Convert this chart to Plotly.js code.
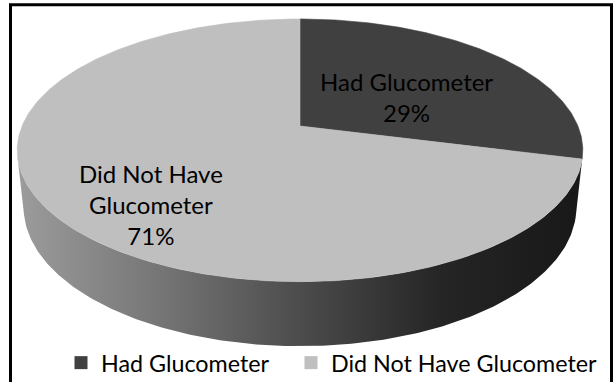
<!DOCTYPE html>
<html>
<head>
<meta charset="utf-8">
<script src="https://cdn.plot.ly/plotly-3.0.1.min.js"></script>
<style>
  html, body { margin: 0; padding: 0; background: #ffffff; }
  #chart { width: 614px; height: 385px; }
</style>
</head>
<body>
<div id="chart"></div>
<script>
// Survey result: glucometer ownership (percent of respondents)
const categories = ['Had Glucometer', 'Did Not Have Glucometer'];
const labelLines = ['Had Glucometer', 'Did Not Have<br>Glucometer'];
const shares = [29, 71];
const topColors = ['#404040', '#bfbfbf'];
const sideScale = [[0, '#9c9c9c'], [0.25, '#767676'], [0.5, '#4c4c4c'], [0.75, '#252525'], [1, '#181818']];

// Perspective view of a tilted disc (unit radius) with a cylindrical rim.
const view = {
  cx: 300, cy: 127,        // screen position of the disc centre
  focal: 1334,             // focal length in px
  dist: 4.8,               // camera distance in disc radii
  sinT: 0.46, cosT: 0.888, // camera elevation
  depth: 0.235             // rim thickness in disc radii
};

function project(theta, r, z) {
  const X = r * Math.sin(theta), Y = r * Math.cos(theta), Z = z;
  const up = Y * view.sinT + Z * view.cosT;
  const d = view.dist + Y * view.cosT - Z * view.sinT;
  return [view.cx + view.focal * X / d, view.cy - view.focal * up / d];
}

function arc(a0, a1, z, steps) {
  const pts = [];
  for (let i = 0; i <= steps; i++) {
    const t = a0 + (a1 - a0) * i / steps;
    pts.push(project(t, 1, z));
  }
  return pts;
}

const total = shares.reduce((s, v) => s + v, 0);
const toRad = v => v / total * 2 * Math.PI;
// the rim is visible between the two silhouette angles
const silA = Math.acos(-1 / (view.dist * view.cosT));
const silB = 2 * Math.PI - silA;

const sideTraces = [];
const topTraces = [];
let acc = 0;
shares.forEach((v, i) => {
  const a0 = toRad(acc), a1 = toRad(acc + v);
  acc += v;
  // top face of the slice
  const rim = arc(a0, a1, 0, Math.max(8, Math.round((a1 - a0) * 80)));
  const c = project(0, 0, 0);
  const poly = [c].concat(rim, [c]);
  topTraces.push({
    type: 'scatter', mode: 'lines',
    x: poly.map(p => p[0]), y: poly.map(p => p[1]),
    fill: 'toself', fillcolor: topColors[i],
    line: { width: 0.6, color: topColors[i] },
    hoverinfo: 'skip', showlegend: false
  });
  // visible part of the slice's rim
  const s0 = Math.max(a0, silA), s1 = Math.min(a1, silB);
  if (s1 > s0) {
    const n = Math.max(4, Math.round((s1 - s0) * 80));
    const upper = arc(s0, s1, 0, n);
    const lower = arc(s1, s0, -view.depth, n);
    const side = upper.concat(lower, [upper[0]]);
    sideTraces.push({
      type: 'scatter', mode: 'lines',
      x: side.map(p => p[0]), y: side.map(p => p[1]),
      fill: 'toself',
      fillgradient: { type: 'horizontal', colorscale: sideScale },
      line: { width: 0 },
      hoverinfo: 'skip', showlegend: false
    });
  }
});

// one legend per category so each entry can be placed on its own
const legendIds = ['legend', 'legend2'];
const legendTraces = categories.map((name, i) => ({
  type: 'scatter', mode: 'markers', name: name,
  x: [null], y: [null],
  marker: { symbol: 'square', size: 13, color: topColors[i] },
  legend: legendIds[i],
  showlegend: true
}));

const font = 'Lato, "Open Sans", sans-serif';
const labelPos = [[406, 98], [151, 206]];
const annotations = shares.map((v, i) => ({
  xref: 'x', yref: 'y', x: labelPos[i][0], y: labelPos[i][1],
  text: labelLines[i] + '<br>' + v + '%',
  showarrow: false, align: 'center',
  font: { family: font, size: 24, color: '#000000' }
}));

const legendBase = {
  orientation: 'h', xanchor: 'left',
  y: 1 - 366 / 385, yanchor: 'middle',
  font: { family: font, size: 23.3, color: '#000000' },
  bgcolor: 'rgba(0,0,0,0)', borderwidth: 0
};

const layout = {
  width: 614, height: 385,
  margin: { l: 0, r: 0, t: 0, b: 0 },
  paper_bgcolor: '#ffffff', plot_bgcolor: '#ffffff',
  xaxis: { range: [0, 614], visible: false, fixedrange: true },
  yaxis: { range: [385, 0], visible: false, fixedrange: true },
  showlegend: true,
  legend: Object.assign({ x: 61 / 614 }, legendBase),
  legend2: Object.assign({ x: 291 / 614 }, legendBase),
  annotations: annotations,
  shapes: [{
    type: 'rect', xref: 'x', yref: 'y',
    x0: 10.5, x1: 611.5, y0: 4.8, y1: 400,
    line: { color: '#000000', width: 3 }, fillcolor: 'rgba(0,0,0,0)'
  }]
};

Plotly.newPlot('chart', sideTraces.concat(topTraces, legendTraces), layout,
  { displayModeBar: false, staticPlot: true });
</script>
</body>
</html>
